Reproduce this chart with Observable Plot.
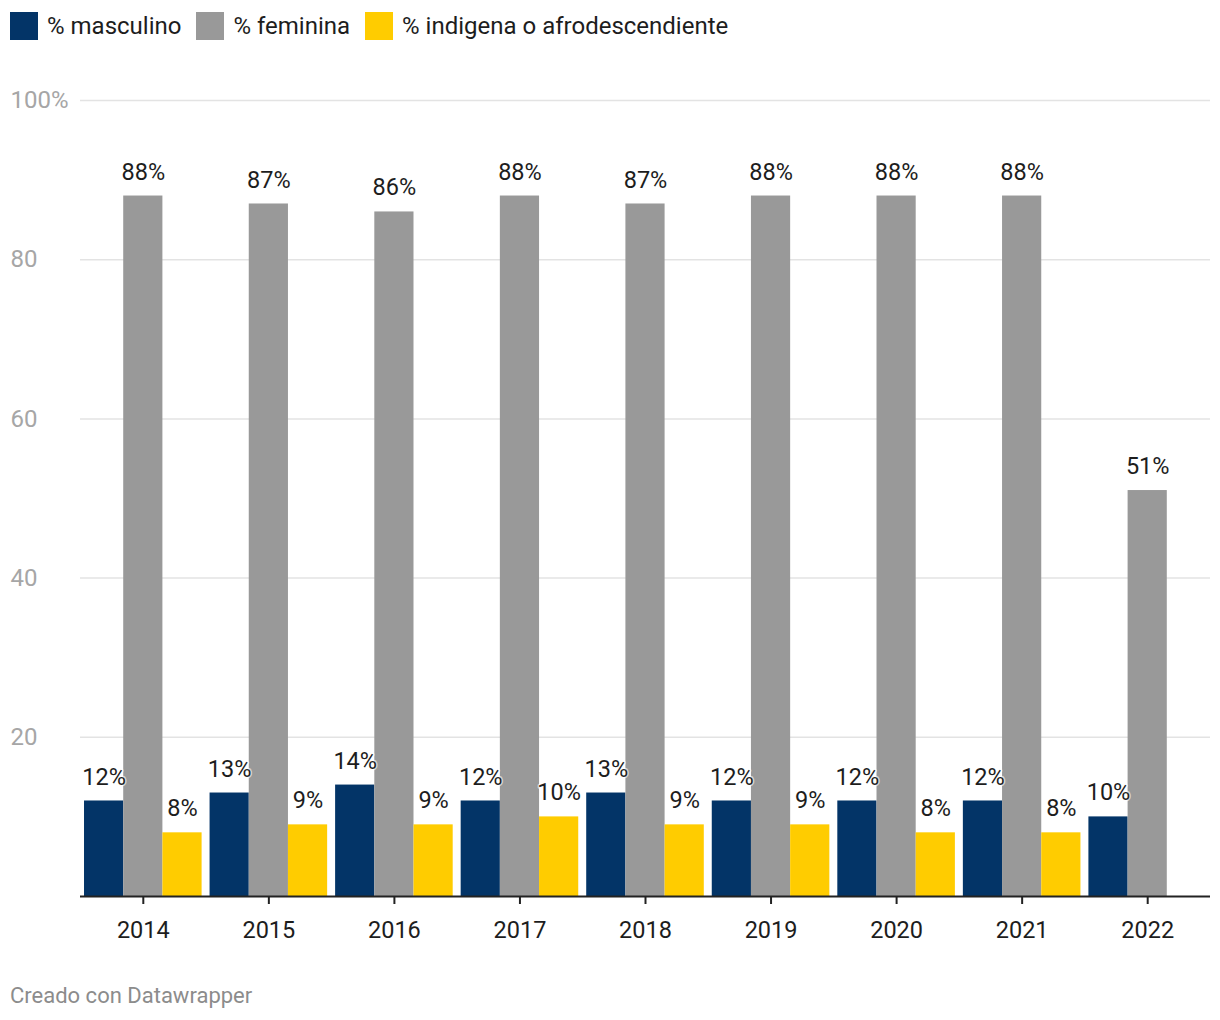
<!DOCTYPE html>
<html>
<head>
<meta charset="utf-8">
<script src="https://cdn.jsdelivr.net/npm/d3@7"></script>
<script src="https://cdn.jsdelivr.net/npm/@observablehq/plot@0.6"></script>
<style>
  html, body { margin: 0; padding: 0; background: #fff; }
  body { width: 1220px; height: 1020px; position: relative; font-family: Roboto, "Noto Sans", sans-serif; color: #1d1d1d; }
  #legend { position: absolute; left: 10px; top: 12px; display: flex; align-items: center; font-size: 24px; }
  .item { display: flex; align-items: center; margin-right: 15px; }
  .sw { width: 28px; height: 28px; margin-right: 9px; }
  #chart { position: absolute; left: 0; top: 50px; }
  #footer { position: absolute; left: 10px; top: 983px; font-size: 22px; color: #8c8c8c; }
</style>
</head>
<body>
<div id="legend"></div>
<div id="chart"></div>
<div id="footer">Creado con Datawrapper</div>
<script>
const years = ["2014","2015","2016","2017","2018","2019","2020","2021","2022"];
const seriesNames = ["% masculino", "% feminina", "% indigena o afrodescendiente"];
const seriesColors = ["#033467", "#999999", "#ffcc00"];
const masculino = [12, 13, 14, 12, 13, 12, 12, 12, 10];
const feminina  = [88, 87, 86, 88, 87, 88, 88, 88, 51];
const indigena  = [8, 9, 9, 10, 9, 9, 8, 8, null];
const yTicks = [20, 40, 60, 80, 100];
const yTickLabels = ["20", "40", "60", "80", "100%"];

const seriesValues = [masculino, feminina, indigena];

// legend
const legend = document.getElementById("legend");
seriesNames.forEach((n, i) => {
  const it = document.createElement("div");
  it.className = "item";
  const sw = document.createElement("div");
  sw.className = "sw";
  sw.style.background = seriesColors[i];
  const t = document.createElement("span");
  t.textContent = n;
  it.appendChild(sw); it.appendChild(t);
  legend.appendChild(it);
});

const W = 1220, mL = 80, mR = 10, mT = 50, mB = 60;
const H = mT + 796 + mB;
const xOpts = { type: "band", domain: years, paddingInner: 0.0635, paddingOuter: 0.032, round: false };

// get bandwidth from Plot's own scale
const probe = Plot.plot({ width: W, marginLeft: mL, marginRight: mR, x: xOpts, marks: [Plot.ruleX(years)] });
const bw = probe.scale("x").bandwidth;
const w = bw / 3;

const marks = [
  Plot.ruleY(yTicks, { stroke: "#e3e3e3", strokeWidth: 1.5 }),
  Plot.text(yTicks, { y: d => d, text: (d, i) => yTickLabels[i], frameAnchor: "left", textAnchor: "start", dx: -(mL - 10), fill: "#a6a6a6", fontSize: 24 })
];
seriesValues.forEach((vals, si) => {
  const data = years.map((yr, j) => ({ year: yr, value: vals[j] })).filter(d => d.value != null);
  marks.push(Plot.barY(data, {
    x: "year", y: "value", fill: seriesColors[si],
    insetLeft: si * w, insetRight: (2 - si) * w
  }));
});
seriesValues.forEach((vals, si) => {
  const data = years.map((yr, j) => ({ year: yr, value: vals[j] })).filter(d => d.value != null);
  marks.push(Plot.text(data, {
    x: "year", y: "value", text: d => d.value + "%",
    dx: (si - 1) * w, dy: -24, fill: "#1d1d1d", fontSize: 23.5,
    stroke: "white", strokeWidth: 3, strokeOpacity: 0.6
  }));
});
marks.push(Plot.ruleY([0], { stroke: "#222", strokeWidth: 2 }));
marks.push(Plot.axisX({ tickSize: 8, tickPadding: 17, fontSize: 23.5, stroke: "#222", strokeWidth: 2, color: "#1d1d1d", label: null }));

const chart = Plot.plot({
  width: W, height: H,
  marginLeft: mL, marginRight: mR, marginTop: mT, marginBottom: mB,
  style: { fontFamily: "Roboto, 'Noto Sans', sans-serif", background: "white", overflow: "visible" },
  x: { ...xOpts, label: null },
  y: { domain: [0, 100], axis: null },
  marks
});
document.getElementById("chart").appendChild(chart);
</script>
</body>
</html>
